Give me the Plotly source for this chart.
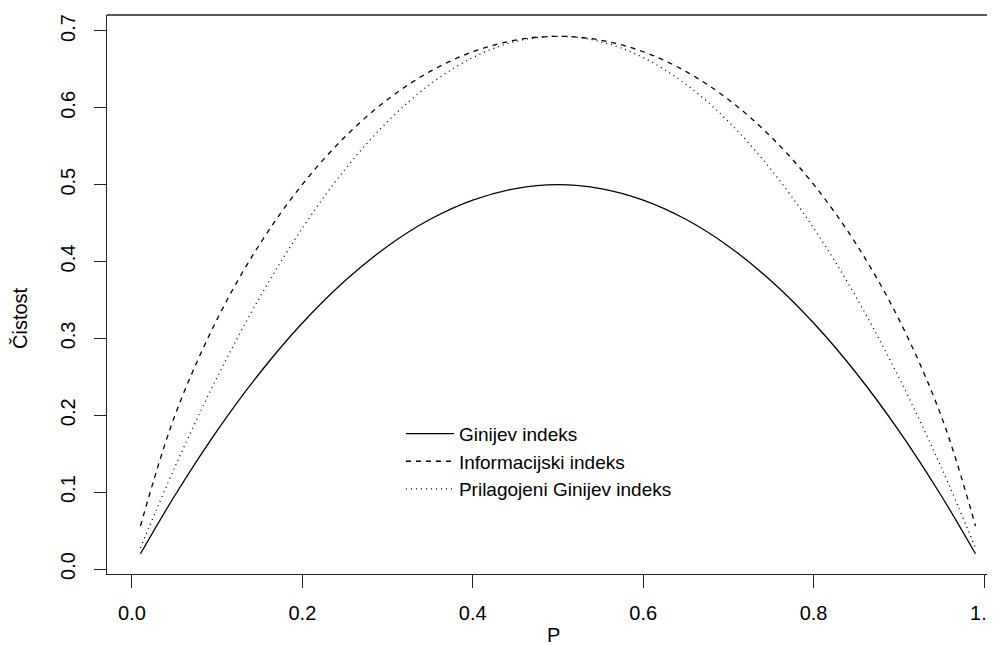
import plotly.graph_objects as go

# Data values
p_values = [0.01, 0.05, 0.10, 0.15, 0.20, 0.25, 0.30, 0.35, 0.40, 0.45, 0.50,
            0.55, 0.60, 0.65, 0.70, 0.75, 0.80, 0.85, 0.90, 0.95, 0.99]
gini = [0.0198, 0.095, 0.18, 0.255, 0.32, 0.375, 0.42, 0.455, 0.48, 0.495, 0.5,
        0.495, 0.48, 0.455, 0.42, 0.375, 0.32, 0.255, 0.18, 0.095, 0.0198]
entropy = [0.0560, 0.1985, 0.3251, 0.4227, 0.5004, 0.5623, 0.6109, 0.6474, 0.6730, 0.6881, 0.6931,
           0.6881, 0.6730, 0.6474, 0.6109, 0.5623, 0.5004, 0.4227, 0.3251, 0.1985, 0.0560]
adj_gini = [0.0275, 0.1317, 0.2495, 0.3535, 0.4436, 0.5199, 0.5822, 0.6308, 0.6654, 0.6862, 0.6931,
            0.6862, 0.6654, 0.6308, 0.5822, 0.5199, 0.4436, 0.3535, 0.2495, 0.1317, 0.0275]
series_names = ["Ginijev indeks", "Informacijski indeks", "Prilagojeni Ginijev indeks"]
x_ticks = [0.0, 0.2, 0.4, 0.6, 0.8, 1.0]
x_ticktext = ["0.0", "0.2", "0.4", "0.6", "0.8", "1.0"]
y_ticks = [0.0, 0.1, 0.2, 0.3, 0.4, 0.5, 0.6, 0.7]
y_ticktext = ["0.0", "0.1", "0.2", "0.3", "0.4", "0.5", "0.6", "0.7"]

FONT = "Liberation Sans, Arial, sans-serif"
AX = "#222"

fig = go.Figure()
for vals, name, dash in zip([gini, entropy, adj_gini], series_names,
                            ["solid", "5px,5px", "1px,4px"]):
    fig.add_trace(go.Scatter(x=p_values, y=vals, mode="lines", name=name,
                             line=dict(color="black", width=1.3, dash=dash, shape="spline")))

fig.update_layout(
    width=987, height=638,
    margin=dict(l=99, r=0, t=7, b=72),
    paper_bgcolor="white", plot_bgcolor="white",
    font=dict(family=FONT, size=20, color="black"),
    showlegend=True,
    legend=dict(x=0.331, y=0.285, xanchor="left", yanchor="top", itemwidth=48,
                bgcolor="rgba(0,0,0,0)", font=dict(size=19), tracegroupgap=0),
    xaxis=dict(range=[-0.0293, 1.0129], tickvals=x_ticks, ticktext=x_ticktext,
               showgrid=False, zeroline=False, showline=True, linecolor=AX, linewidth=1.3,
               ticks="outside", ticklen=13, tickwidth=1.3, tickcolor=AX, mirror=False,
               ticklabelstandoff=8, automargin=False, ticklabeloverflow="allow"),
    yaxis=dict(range=[-0.0065, 0.7208], tickvals=y_ticks, ticktext=y_ticktext,
               showgrid=False, zeroline=False, showline=True, linecolor=AX, linewidth=1.3,
               ticks="outside", ticklen=12, tickwidth=1.3, tickcolor=AX, tickangle=-90, mirror=False,
               ticklabelstandoff=11, automargin=False),
)
fig.add_shape(type="line", xref="paper", yref="paper", x0=0, x1=1, y0=1, y1=1,
              line=dict(color=AX, width=1.3))
fig.add_annotation(text="P", xref="paper", yref="paper", x=(553 - 107) / 888, y=-61 / 559,
                   xanchor="center", yanchor="middle", showarrow=False, font=dict(size=20))
fig.add_annotation(text="Čistost", xref="paper", yref="paper", x=-87 / 888, y=(574 - 318) / 559,
                   xanchor="center", yanchor="middle", showarrow=False, textangle=-90, font=dict(size=20))

fig.write_html("out.html")
